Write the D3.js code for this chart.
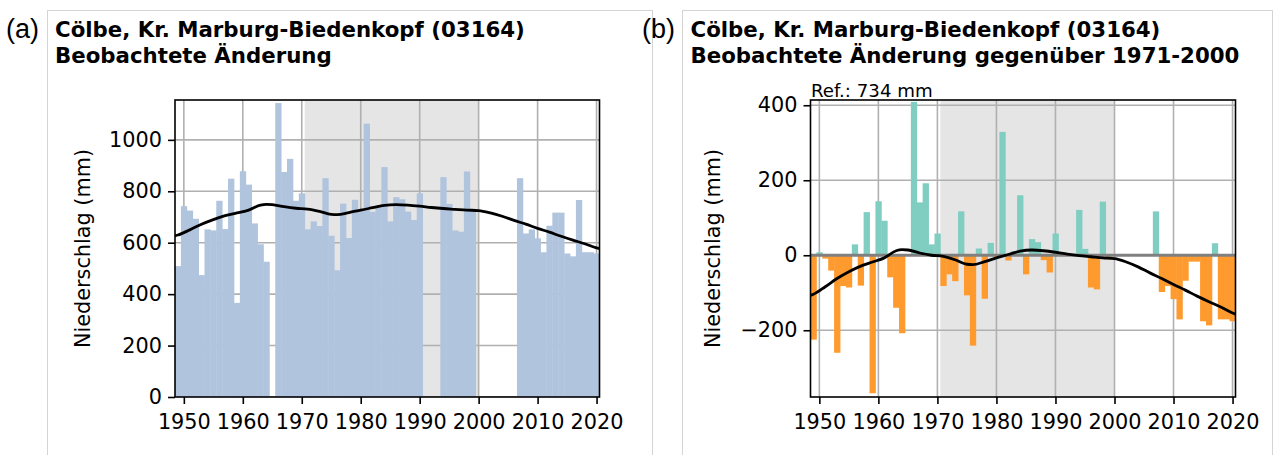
<!DOCTYPE html>
<html><head><meta charset="utf-8">
<script src="https://cdn.jsdelivr.net/npm/d3@7"></script>
<style>
html,body{margin:0;padding:0;background:#fff;}
svg{display:block;font-family:"DejaVu Sans",sans-serif;}
</style></head><body>
<svg id="chart" width="1275" height="455"></svg>
<script>
// ---------- data ----------
const years = [1949,1950,1951,1952,1953,1954,1955,1956,1957,1958,1959,1960,1961,1962,1963,1964,1965,1966,1967,1968,1969,
  1970,1971,1972,1973,1974,1975,1976,1977,1978,1979,1980,1981,1982,1983,1984,1985,1986,1987,1988,1989,
  1990,1991,1992,1993,1994,1995,1996,1997,1998,1999,2000,2001,2002,2003,2004,2005,2006,2007,2008,2009,
  2010,2011,2012,2013,2014,2015,2016,2017,2018,2019,2020];
const precip = [509,742,725,693,474,652,648,763,653,849,366,878,826,675,594,526,null,1143,875,926,763,
  792,652,683,665,851,627,493,752,618,767,728,1063,720,745,894,683,777,769,721,688,
  792,null,null,null,855,751,648,643,877,723,null,null,null,null,null,null,null,851,636,652,
  617,563,666,717,717,558,547,766,563,563,558];
const reference = 734;
const smoothYears  = [1948.5,1949,1951,1953,1955,1957,1959,1961,1963,1964,1965,1967,1969,1971,1973,1975,1976,1978,1980,1982,1984,1986,1988,1990,1992,1994,1996,1998,2000,2002,2004,2006,2008,2010,2012,2014,2016,2018,2020,2020.5];
const smoothPrecip = [627,630,650,672,690,705,716,727,746,749,748,740,734,731,722,710,709,717,727,736,745,748,746,742,737,733,730,727,725,716,703,687,672,656,641,625,610,596,580,577];
const refPeriod = [1970.5, 2000];
const xTicks = [1950,1960,1970,1980,1990,2000,2010,2020];
const yTicksA = [0,200,400,600,800,1000];
const yTicksB = [-200,0,200,400];
const stationTitle = "Cölbe, Kr. Marburg-Biedenkopf (03164)";
const subtitleA = "Beobachtete Änderung";
const subtitleB = "Beobachtete Änderung gegenüber 1971-2000";
const yLabel = "Niederschlag (mm)";
const refLabel = "Ref.: " + reference + " mm";

// ---------- style ----------
const C = {bar:"#b0c4de", pos:"#80cdc1", neg:"#fe9a2e", span:"#e5e5e5", grid:"#b0b0b0", zero:"#808080", box:"#d4d4d4"};
const FS = 20.8;
const TFS = 21.3;

const svg = d3.select("#chart");

function panel(opts){
  const g = svg.append("g");
  g.append("rect").attr("x",opts.box[0]+0.5).attr("y",10.5).attr("width",opts.box[1]-opts.box[0]).attr("height",460)
    .attr("fill","none").attr("stroke",C.box).attr("stroke-width",1);
  g.append("text").attr("x",opts.letterX).attr("y",38).attr("font-family","Liberation Sans, sans-serif")
    .attr("font-size",27).attr("font-weight",300).text(opts.letter);
  g.append("text").attr("x",opts.titleX).attr("y",37).attr("font-size",TFS).attr("font-weight","bold").text(stationTitle);
  g.append("text").attr("x",opts.titleX).attr("y",63).attr("font-size",TFS).attr("font-weight","bold").text(opts.subtitle);

  const x = d3.scaleLinear().domain([1948.5,2020.5]).range([opts.x0,opts.x1]);
  const y = d3.scaleLinear().domain(opts.yDomain).range([397,100]);
  const clipId = "clip"+opts.letter.replace(/\W/g,"");
  g.append("clipPath").attr("id",clipId).append("rect")
    .attr("x",opts.x0).attr("y",100).attr("width",opts.x1-opts.x0).attr("height",297);
  const pg = g.append("g").attr("clip-path",`url(#${clipId})`);

  pg.append("rect").attr("x",x(refPeriod[0])).attr("y",100).attr("width",x(refPeriod[1])-x(refPeriod[0])).attr("height",297).attr("fill",C.span);
  pg.selectAll(".vg").data(xTicks).enter().append("line")
    .attr("x1",d=>x(d)).attr("x2",d=>x(d)).attr("y1",100).attr("y2",397).attr("stroke",C.grid).attr("stroke-width",1.6);
  pg.selectAll(".hg").data(opts.yTicks).enter().append("line")
    .attr("y1",d=>y(d)).attr("y2",d=>y(d)).attr("x1",opts.x0).attr("x2",opts.x1).attr("stroke",C.grid).attr("stroke-width",1.6);

  const rows = years.map((yr,i)=>({yr, v: precip[i]})).filter(d=>d.v!==null);
  const bw = x(1950.5)-x(1949.5);
  pg.selectAll(".bar").data(rows).enter().append("rect")
    .attr("x",d=>x(d.yr-0.5)).attr("width",bw+0.4)
    .attr("y",d=>Math.min(y(opts.val(d.v)),y(0)))
    .attr("height",d=>Math.abs(y(opts.val(d.v))-y(0)))
    .attr("fill",d=>opts.color(opts.val(d.v)));

  if(opts.zero){
    pg.append("line").attr("x1",opts.x0).attr("x2",opts.x1).attr("y1",y(0)).attr("y2",y(0))
      .attr("stroke",C.zero).attr("stroke-width",3.2);
  }
  const pts = smoothYears.map((yr,i)=>[yr, opts.val(smoothPrecip[i])]);
  pg.append("path").datum(pts)
    .attr("d",d3.line().x(d=>x(d[0])).y(d=>y(d[1])).curve(d3.curveMonotoneX))
    .attr("fill","none").attr("stroke","#000").attr("stroke-width",2.8);

  g.append("rect").attr("x",opts.x0).attr("y",100).attr("width",opts.x1-opts.x0).attr("height",297)
    .attr("fill","none").attr("stroke","#000").attr("stroke-width",1.6);

  const ax = g.append("g").attr("transform",`translate(0,397)`)
    .call(d3.axisBottom(x).tickValues(xTicks).tickFormat(d3.format("d")).tickSize(7).tickPadding(10));
  const ay = g.append("g").attr("transform",`translate(${opts.x0},0)`)
    .call(d3.axisLeft(y).tickValues(opts.yTicks).tickFormat(d3.format("d")).tickSize(7).tickPadding(6));
  [ax,ay].forEach(a=>{
    a.select(".domain").remove();
    a.selectAll(".tick line").attr("stroke","#000").attr("stroke-width",1.6);
    a.selectAll(".tick text").attr("font-size",FS).attr("font-family","DejaVu Sans, sans-serif").attr("fill","#000");
  });

  g.append("text").attr("transform",`translate(${opts.ylabX},248.5) rotate(-90)`)
    .attr("text-anchor","middle").attr("font-size",FS).text(yLabel);
  return {g,x,y};
}

panel({letter:"(a)", letterX:6, titleX:55, box:[47,652], subtitle:subtitleA,
  x0:175, x1:599.5, yDomain:[0,1155], yTicks:yTicksA, ylabX:90,
  val:v=>v, color:()=>C.bar, zero:false});

const pb = panel({letter:"(b)", letterX:642, titleX:690.5, box:[682,1272], subtitle:subtitleB,
  x0:810.5, x1:1235.5, yDomain:[-378,414], yTicks:yTicksB, ylabX:720,
  val:v=>v-reference, color:v=>v>=0?C.pos:C.neg, zero:true});
pb.g.append("text").attr("x",811).attr("y",97).attr("font-size",18.2).text(refLabel);
</script>
</body></html>
